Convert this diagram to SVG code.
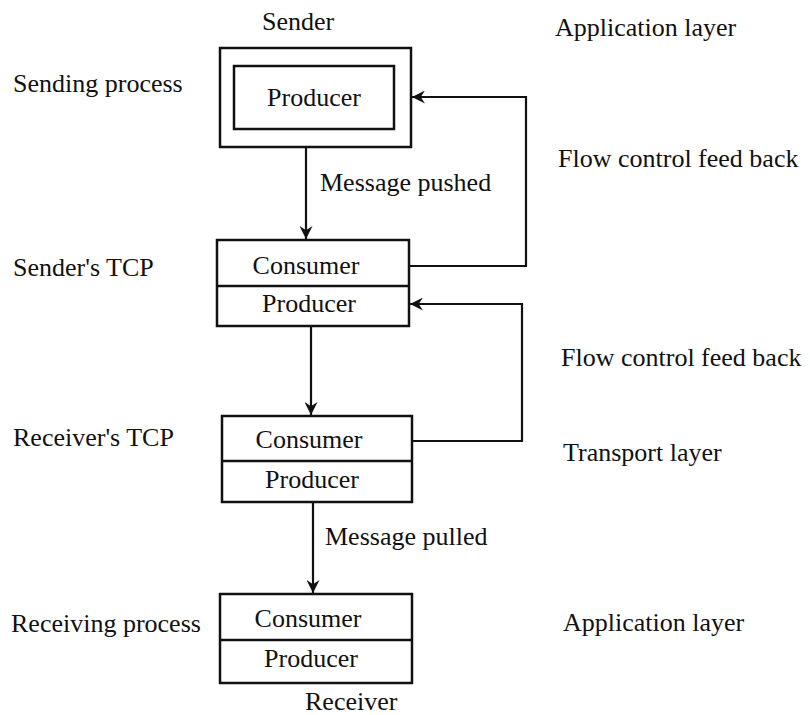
<svg xmlns="http://www.w3.org/2000/svg" width="810" height="715" viewBox="0 0 810 715">
<defs>
<marker id="ah" viewBox="0 0 12 12" refX="12" refY="6" markerWidth="13" markerHeight="13" markerUnits="userSpaceOnUse" orient="auto">
<path d="M0,0 L12,6 L0,12 L4,6 Z" fill="#111"/>
</marker>
<style>
.t{font-family:'Liberation Serif','DejaVu Serif',serif;font-size:26px;fill:#111}
.c{text-anchor:middle}
.box{fill:none;stroke:#111;stroke-width:2.5}
.ln{fill:none;stroke:#111;stroke-width:2.2}
</style>
</defs>
<rect width="810" height="715" fill="#fff"/>
<g id="labels" class="t" font-family="Liberation Serif, serif">
<text x="262" y="30">Sender</text>
<text x="13" y="92">Sending process</text>
<text x="13" y="276">Sender's TCP</text>
<text x="13" y="446">Receiver's TCP</text>
<text x="11" y="632">Receiving process</text>
<text x="555" y="36">Application layer</text>
<text x="558" y="167">Flow control feed back</text>
<text x="561" y="366">Flow control feed back</text>
<text x="563" y="461">Transport layer</text>
<text x="563" y="631">Application layer</text>
<text x="305" y="710">Receiver</text>
<text x="320" y="191">Message pushed</text>
<text x="325" y="545">Message pulled</text>
</g>
<g id="sender" class="t" font-family="Liberation Serif, serif">
<rect class="box" x="220" y="48" width="191" height="99"/>
<rect class="box" x="234" y="66" width="160" height="63"/>
<text class="c" x="314" y="106">Producer</text>
</g>
<g id="senders-tcp" class="t" font-family="Liberation Serif, serif">
<rect class="box" x="217" y="240" width="192" height="86"/>
<line class="box" x1="217" y1="286" x2="409" y2="286"/>
<text class="c" x="306" y="274">Consumer</text>
<text class="c" x="309" y="312">Producer</text>
</g>
<g id="receivers-tcp" class="t" font-family="Liberation Serif, serif">
<rect class="box" x="222" y="416" width="190" height="86"/>
<line class="box" x1="222" y1="461" x2="412" y2="461"/>
<text class="c" x="309" y="448">Consumer</text>
<text class="c" x="312" y="488">Producer</text>
</g>
<g id="receiving" class="t" font-family="Liberation Serif, serif">
<rect class="box" x="220" y="594" width="192" height="89"/>
<line class="box" x1="220" y1="640" x2="412" y2="640"/>
<text class="c" x="308" y="627">Consumer</text>
<text class="c" x="311" y="667">Producer</text>
</g>
<g id="connectors">
<line class="ln" x1="306" y1="147" x2="306" y2="239" marker-end="url(#ah)"/>
<line class="ln" x1="311" y1="326" x2="311" y2="415" marker-end="url(#ah)"/>
<line class="ln" x1="313" y1="502" x2="313" y2="593" marker-end="url(#ah)"/>
<polyline class="ln" points="409,266 526,266 526,97 412,97" marker-end="url(#ah)"/>
<polyline class="ln" points="412,441 522,441 522,304 410,304" marker-end="url(#ah)"/>
</g>
</svg>
